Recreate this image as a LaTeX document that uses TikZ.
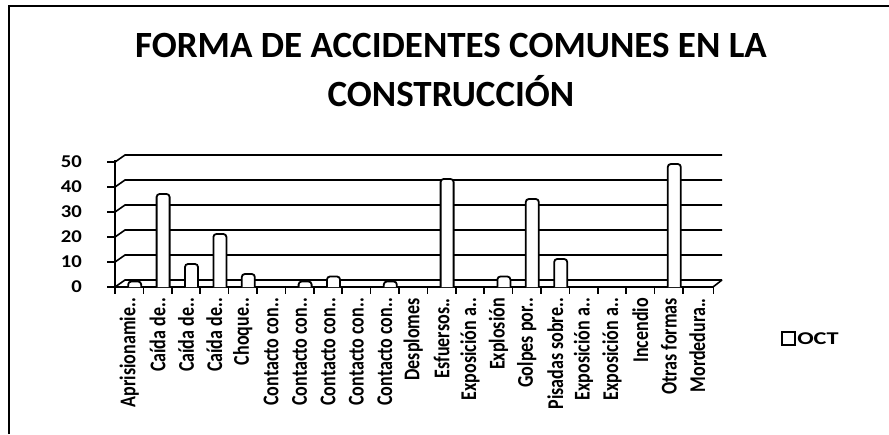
\documentclass[tikz,border=0pt]{standalone}
\usepackage{fontspec}
\setmainfont{Carlito}
\begin{document}
\begin{tikzpicture}[x=1pt,y=-1pt,
    gridline/.style={line width=1.6pt},
    bar/.style={draw,line width=1.8pt,fill=white,rounded corners=3pt},
    cat/.style={rotate=90,yscale=1.25,anchor=east,inner sep=0pt,font=\bfseries\fontsize{18}{18}\selectfont},
    ylab/.style={anchor=east,inner sep=0pt,font=\bfseries\fontsize{18}{18}\selectfont}]
   \useasboundingbox (0,0) rectangle (889,434);

   % frame
   \draw[line width=1.2pt] (9,434) -- (9,6) -- (889,6);

   % title
   \node[font=\bfseries\fontsize{37}{49}\selectfont, align=center] (title) at (451,70)
       {FORMA DE ACCIDENTES COMUNES EN LA\\CONSTRUCCIÓN};

   % walls and grid
   \foreach \g in {0,1,...,5} {
       \pgfmathsetmacro{\gy}{280-25*\g}
       \pgfmathtruncatemacro{\gv}{10*\g}
       \draw[gridline] (115,\gy+7) -- (125,\gy) -- (722,\gy);
       \draw[gridline] (107,\gy+7) -- (115,\gy+7);
       \node[ylab,xscale=1.15] (yl\g) at (82,\gy+7) {\gv};
   }
   \draw[gridline] (115,160) -- (115,291);
   \draw[gridline] (115,287) -- (713,287) -- (722,280);

   % bars, ticks, categories
   \foreach \v/\t [count=\i from 0] in {1/Aprisionamie..,36/Caída de..,8/Caída de..,20/Caída de..,4/Choque..,
       0/Contacto con..,1/Contacto con..,3/Contacto con..,0/Contacto con..,1/Contacto con..,0/Desplomes,
       42/Esfuersos..,0/Exposición a..,3/Explosión,34/Golpes por..,10/Pisadas sobre..,0/Exposición a..,
       0/Exposición a..,0/Incendio,48/Otras formas,0/Mordedura..} {
       \pgfmathsetmacro{\cx}{115+28.4*(\i+0.5)}
       \pgfmathsetmacro{\tx}{115+28.4*\i}
       \draw[gridline] (\tx,287) -- (\tx,294);
       \ifnum\v>0
           \pgfmathsetmacro{\top}{284-2.5*\v}
           \draw[bar] (\cx-1,287) -- (\cx-1,\top) -- (\cx+12,\top) -- (\cx+12,287);
       \fi
       \node[cat] (c\i) at (\cx,298) {\t};
   }
   \draw[gridline] (713.4,287) -- (713.4,294);

   % legend
   \draw[line width=2pt] (782,332) rectangle (795,345);
   \node[anchor=west,inner sep=0pt,xscale=1.35,font=\bfseries\fontsize{18}{18}\selectfont] (leg) at (797,339) {OCT};
\end{tikzpicture}
\end{document}
